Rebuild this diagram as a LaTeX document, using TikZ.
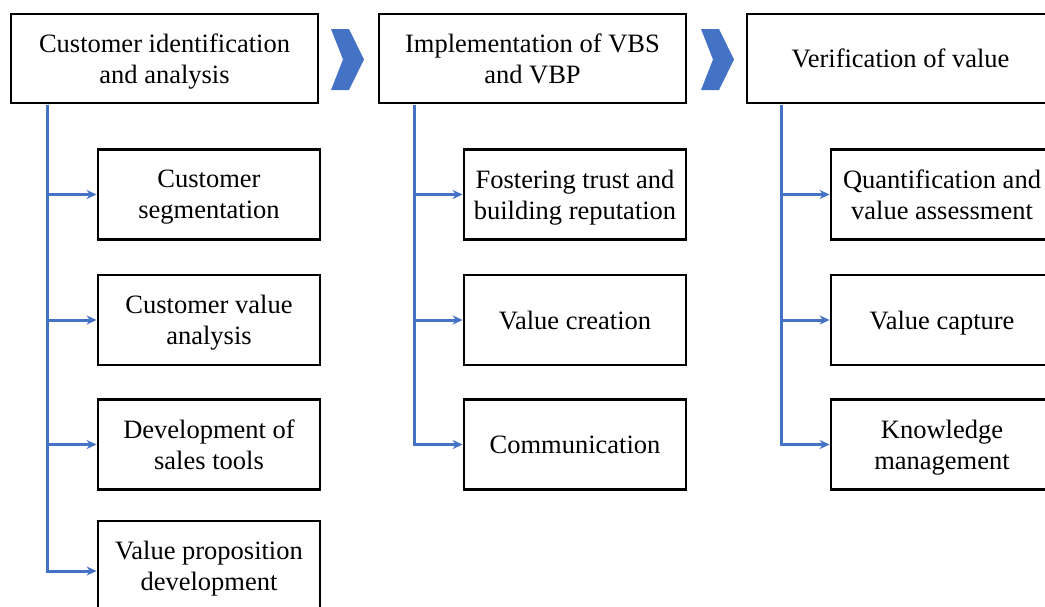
\documentclass[tikz,border=0pt]{standalone}
\usepackage{fontspec}
\setmainfont{Liberation Serif}
\usetikzlibrary{arrows.meta}
\definecolor{ppblue}{RGB}{68,114,196}
\begin{document}
\begin{tikzpicture}[x=1pt,y=-1pt,
  box/.style={draw=black,line width=2.8pt,fill=white,align=center,inner sep=0pt,
    text depth=0pt,font=\fontsize{26.5}{31}\selectfont},
  topbox/.style={box,minimum width=307pt,minimum height=89pt},
  subbox/.style={box,minimum width=222pt,minimum height=90pt},
  link/.style={draw=ppblue,line width=3pt,-{Stealth[length=10pt,width=9pt]}},
  chev/.style={fill=ppblue,draw=none}]
\useasboundingbox (0,0) rectangle (1045,606);
% top boxes
\node[topbox] (t1) at (164.5,58.5) {Customer identification\\and analysis};
\node[topbox] (t2) at (532.5,58.5) {Implementation of VBS\\and VBP};
\node[topbox] (t3) at (900.5,58.5) {Verification of value};
% chevrons
\fill[chev] (331,29) -- (349,29) -- (364,59.5) -- (349,90) -- (331,90) -- (343,59.5) -- cycle;
\fill[chev] (701,29) -- (719,29) -- (734,59.5) -- (719,90) -- (701,90) -- (713,59.5) -- cycle;
% column 1
\node[subbox] (a1) at (209,194.5) {Customer\\segmentation};
\node[subbox] (a2) at (209,320) {Customer value\\analysis};
\node[subbox] (a3) at (209,444.5) {Development of\\sales tools};
\node[subbox] (a4) at (209,566) {Value proposition\\development};
% column 2
\node[subbox] (b1) at (575,194.5) {Fostering trust and\\building reputation};
\node[subbox] (b2) at (575,320) {Value creation};
\node[subbox] (b3) at (575,444.5) {Communication};
% column 3
\node[subbox] (c1) at (942,194.5) {Quantification and\\value assessment};
\node[subbox] (c2) at (942,320) {Value capture};
\node[subbox] (c3) at (942,444.5) {Knowledge\\management};
% connector origins
\coordinate (o1) at (47,104.5);
\coordinate (o2) at (414,104.5);
\coordinate (o3) at (781,104.5);
\foreach \n in {a1,a2,a3} \draw[link] (o1) |- (\n.west);
\draw[link] (o1) |- ([yshift=-5pt]a4.west);
\foreach \n in {b1,b2,b3} \draw[link] (o2) |- (\n.west);
\foreach \n in {c1,c2,c3} \draw[link] (o3) |- (\n.west);
\end{tikzpicture}
\end{document}
